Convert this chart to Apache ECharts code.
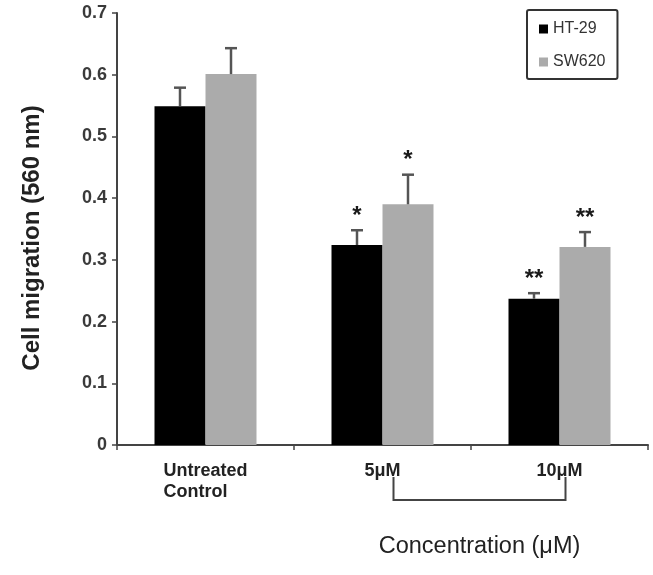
<!DOCTYPE html>
<html>
<head>
<meta charset="utf-8">
<script src="https://cdn.jsdelivr.net/npm/echarts@6/dist/echarts.min.js"></script>
<style>
html,body{margin:0;padding:0;background:#fff;}
#chart{width:653px;height:575px;}
</style>
</head>
<body>
<div id="chart"></div>
<script>
// ---- data ----
const categories = ['Untreated\nControl', '5μM', '10μM'];
const seriesNames = ['HT-29', 'SW620'];
const ht29 = [0.549, 0.324, 0.237];
const ht29Err = [0.030, 0.024, 0.009];
const sw620 = [0.601, 0.390, 0.321];
const sw620Err = [0.042, 0.048, 0.024];
const ht29Sig = ['', '*', '**'];
const sw620Sig = ['', '*', '**'];
const yMin = 0, yMax = 0.7, yStep = 0.1;
const xAxisTitle = 'Concentration (μM)';
const yAxisTitle = 'Cell migration (560 nm)';

// ---- styles ----
const FONT = 'Liberation Sans, Arial, Helvetica, sans-serif';
const BAR_W = 51;
const AXIS_COLOR = '#444';
const ERR_COLOR = '#555';

function errSeries(name, vals, errs, sigs, side) {
  return {
    type: 'custom',
    name: name + ' err',
    z: 5,
    silent: true,
    clip: false,
    data: vals.map((v, i) => [i, v, errs[i]]),
    renderItem: function (params, api) {
      const i = api.value(0);
      const v = api.value(1);
      const e = api.value(2);
      const sig = sigs[params.dataIndex];
      const base = api.coord([i, v]);
      const top = api.coord([i, v + e]);
      const x = base[0] + side * BAR_W / 2;
      const cap = 6;
      const children = [
        { type: 'line', shape: { x1: x, y1: base[1], x2: x, y2: top[1] },
          style: { stroke: ERR_COLOR, lineWidth: 2.5 } },
        { type: 'line', shape: { x1: x - cap, y1: top[1], x2: x + cap, y2: top[1] },
          style: { stroke: ERR_COLOR, lineWidth: 2.5 } }
      ];
      if (sig) {
        children.push({
          type: 'text',
          style: {
            text: sig, x: x, y: top[1] - 2,
            align: 'center', verticalAlign: 'bottom',
            fontSize: 24, fontWeight: 'bold', fontFamily: FONT, fill: '#1a1a1a'
          }
        });
      }
      return { type: 'group', children: children };
    }
  };
}

const chart = echarts.init(document.getElementById('chart'), null, { renderer: 'canvas' });

const option = {
  animation: false,
  backgroundColor: '#fff',
  grid: { left: 117, right: 5, top: 13, bottom: 130, containLabel: false },
  legend: {
    data: seriesNames,
    orient: 'vertical',
    left: 527, top: 10,
    icon: 'rect',
    itemWidth: 9, itemHeight: 9, itemGap: 17,
    padding: [11, 12, 9, 12],
    borderColor: '#333', borderWidth: 2, borderRadius: 2,
    textStyle: { fontSize: 16, fontFamily: FONT, color: '#333' }
  },
  xAxis: {
    type: 'category',
    data: categories,
    axisLine: { lineStyle: { color: AXIS_COLOR, width: 2 } },
    axisTick: { show: true, length: 5, lineStyle: { color: AXIS_COLOR, width: 1.5 } },
    axisLabel: {
      margin: 16,
      color: '#222',
      fontSize: 18, fontWeight: 'bold', fontFamily: FONT,
      lineHeight: 21,
      formatter: function (v) {
        return v.split('\n').map(s => '{u|' + s + '}').join('\n');
      },
      rich: { u: { fontSize: 18, fontWeight: 'bold', fontFamily: FONT, color: '#222', lineHeight: 21, align: 'left' } }
    },
    splitLine: { show: false }
  },
  yAxis: {
    type: 'value',
    min: yMin, max: yMax, interval: yStep,
    name: yAxisTitle,
    nameLocation: 'middle',
    nameGap: 73,
    nameTextStyle: { fontSize: 24, fontWeight: 'bold', fontFamily: FONT, color: '#222', padding: [0, 18, 0, 0] },
    axisLine: { show: true, lineStyle: { color: AXIS_COLOR, width: 2 } },
    axisTick: { show: true, length: 5, lineStyle: { color: AXIS_COLOR, width: 1.5 } },
    axisLabel: { margin: 10, color: '#3a3a3a', fontSize: 18, fontWeight: 'bold', fontFamily: FONT },
    splitLine: { show: false }
  },
  series: [
    { type: 'bar', name: seriesNames[0], data: ht29, barWidth: BAR_W, barGap: '0%',
      itemStyle: { color: '#000' } },
    { type: 'bar', name: seriesNames[1], data: sw620, barWidth: BAR_W, barGap: '0%',
      itemStyle: { color: '#ababab' } },
    errSeries(seriesNames[0], ht29, ht29Err, ht29Sig, -1),
    errSeries(seriesNames[1], sw620, sw620Err, sw620Sig, 1)
  ]
};
chart.setOption(option);

// bracket under concentration labels + axis title
const p1 = chart.convertToPixel({ gridIndex: 0 }, [1, 0]);
const p2 = chart.convertToPixel({ gridIndex: 0 }, [2, 0]);
const bx1 = p1[0] + 11, bx2 = p2[0] + 6;
const by1 = p1[1] + 32, by2 = p1[1] + 55;
chart.setOption({
  graphic: [
    { type: 'polyline', silent: true,
      shape: { points: [[bx1, by1], [bx1, by2], [bx2, by2], [bx2, by1]] },
      style: { stroke: AXIS_COLOR, lineWidth: 2, fill: null } },
    { type: 'text', silent: true, x: (bx1 + bx2) / 2, y: p1[1] + 102,
      style: { text: xAxisTitle, align: 'center', verticalAlign: 'middle',
               fontSize: 23.5, fontFamily: FONT, fill: '#222' } }
  ]
});
</script>
</body>
</html>
